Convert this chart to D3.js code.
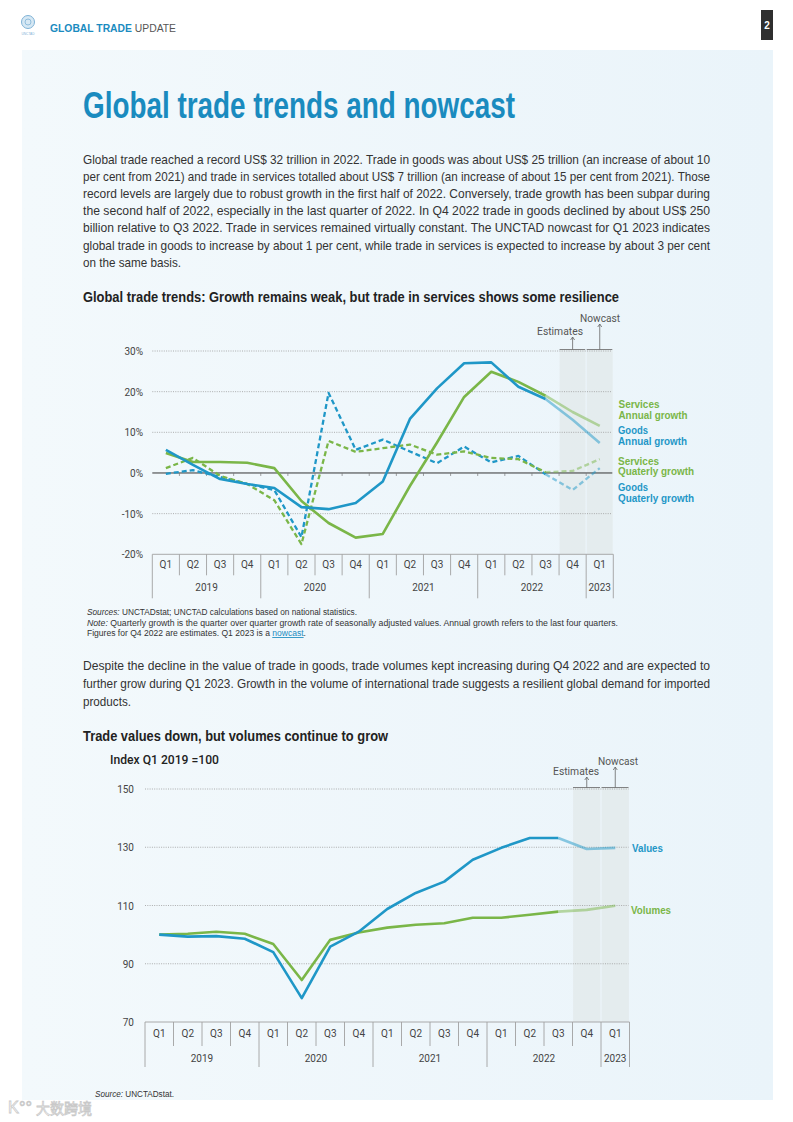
<!DOCTYPE html>
<html><head><meta charset="utf-8">
<script src="https://cdn.jsdelivr.net/npm/d3@7"></script>
<style>
html,body{margin:0;padding:0;background:#fff;}
svg{display:block;}
</style></head><body>
<svg id="page" width="793" height="1122"></svg>
<script>
// ---------- DATA ----------
const quarters = ["Q1","Q2","Q3","Q4","Q1","Q2","Q3","Q4","Q1","Q2","Q3","Q4","Q1","Q2","Q3","Q4","Q1"];
const yearLabels = ["2019","2020","2021","2022","2023"];
const yearSpans = [4,4,4,4,1];

// Chart 1: growth rates (%)
const goodsAnnual       = [5.7, 2.0, -1.5, -2.7, -3.7, -8.4, -8.9, -7.4, -2.1, 13.3, 20.8, 27.0, 27.2, 21.2, 18.2, 13.1, 7.4];
const servicesAnnual    = [4.9, 2.7, 2.7, 2.5, 1.2, -6.9, -12.3, -15.9, -15.0, -3.2, 7.5, 18.7, 24.9, 22.4, 19.0, 15.0, 11.6];
const goodsQuarterly    = [-0.2, 0.7, -1.0, -2.7, -4.2, -15.8, 19.7, 5.7, 8.2, 5.3, 2.4, 6.5, 2.6, 4.2, -0.3, -4.2, 1.2];
const servicesQuarterly = [1.2, 3.7, -0.7, -2.7, -6.7, -17.5, 7.9, 5.2, 6.1, 7.0, 4.5, 5.3, 3.7, 3.4, 0.2, 0.5, 3.4];
const growthTicks = [-20, -10, 0, 10, 20, 30];

// Chart 2: index Q1 2019 = 100
const tradeValues  = [100, 99.3, 99.5, 98.6, 94.0, 78.2, 95.9, 101.0, 108.8, 114.3, 118.2, 125.7, 129.8, 133.2, 133.2, 129.4, 129.8];
const tradeVolumes = [100, 100.3, 101.0, 100.3, 96.8, 84.4, 98.2, 100.7, 102.4, 103.4, 103.9, 105.8, 105.8, 106.8, 107.9, 108.5, 109.9];
const indexTicks = [70, 90, 110, 130, 150];

// ---------- STYLE ----------
const BLUE = "#1f97c7", GREEN = "#7ab648", TITLE_BLUE = "#1a8bbf";
const SANS = "'Liberation Sans', Arial, sans-serif";
const ROBOTO = "Roboto, 'Liberation Sans', sans-serif";
const svg = d3.select("#page");

// background panel
const defs = svg.append("defs");
const grad = defs.append("linearGradient").attr("id","bg").attr("x1","0").attr("x2","1").attr("y1","0").attr("y2","0");
grad.append("stop").attr("offset","0").attr("stop-color","#f3f9fc");
grad.append("stop").attr("offset","1").attr("stop-color","#eaf4fa");
svg.append("rect").attr("x",0).attr("y",0).attr("width",793).attr("height",1122).attr("fill","#fff");
svg.append("rect").attr("x",22).attr("y",50).attr("width",751).attr("height",1050).attr("fill","url(#bg)");

function text(x, y, str, o = {}) {
  const t = svg.append("text").attr("x", x).attr("y", y)
    .attr("font-family", o.font || SANS)
    .attr("font-size", o.size || 13)
    .attr("font-weight", o.weight || "normal")
    .attr("fill", o.fill || "#333")
    .attr("text-anchor", o.anchor || "start")
    .text(str);
  if (o.len) t.attr("textLength", o.len).attr("lengthAdjust", "spacingAndGlyphs");
  if (o.italic) t.attr("font-style", "italic");
  return t;
}
function richText(x, y, parts, size, len) {
  const t = svg.append("text").attr("x", x).attr("y", y).attr("font-family", SANS).attr("font-size", size)
    .attr("fill", "#333").attr("textLength", len).attr("lengthAdjust", "spacingAndGlyphs");
  parts.forEach(p => {
    const s = t.append("tspan").text(p.t);
    if (p.italic) s.attr("font-style", "italic");
    if (p.link) s.attr("fill", TITLE_BLUE).attr("text-decoration", "underline");
  });
  return t;
}

// ---------- HEADER ----------
svg.append("circle").attr("cx",28).attr("cy",22).attr("r",6.5).attr("fill","#d6e8f4").attr("stroke","#7fb2d6").attr("stroke-width",1);
svg.append("circle").attr("cx",28).attr("cy",22).attr("r",3).attr("fill","none").attr("stroke","#7fb2d6").attr("stroke-width",0.8);
text(28, 35, "UNCTAD", {size: 4, fill: "#7fb2d6", anchor: "middle", len: 13});
{
  const t = svg.append("text").attr("x",50).attr("y",31.5).attr("font-family",SANS).attr("font-size",10)
    .attr("textLength",126).attr("lengthAdjust","spacingAndGlyphs");
  t.append("tspan").attr("font-weight","bold").attr("fill",TITLE_BLUE).text("GLOBAL TRADE ");
  t.append("tspan").attr("fill","#555").text("UPDATE");
}
svg.append("rect").attr("x",761).attr("y",10).attr("width",12).attr("height",30).attr("fill","#2f2f2f");
text(767, 29, "2", {size: 10, weight: "bold", fill: "#fff", anchor: "middle"});

// ---------- TITLE & PARAGRAPHS ----------
text(83, 118.3, "Global trade trends and nowcast", {size: 36, weight: "bold", fill: TITLE_BLUE, len: 432});

const para1 = [
  "Global trade reached a record US$ 32 trillion in 2022. Trade in goods was about US$ 25 trillion (an increase of about 10",
  "per cent from 2021) and trade in services totalled about US$ 7 trillion (an increase of about 15 per cent from 2021). Those",
  "record levels are largely due to robust growth in the first half of 2022. Conversely, trade growth has been subpar during",
  "the second half of 2022, especially in the last quarter of 2022. In Q4 2022 trade in goods declined by about US$ 250",
  "billion relative to Q3 2022. Trade in services remained virtually constant. The UNCTAD nowcast for Q1 2023 indicates",
  "global trade in goods to increase by about 1 per cent, while trade in services is expected to increase by about 3 per cent",
  "on the same basis."
];
para1.forEach((l, i) => text(83, 164 + i * 17.1, l, {size: 13, fill: "#333", len: i === para1.length - 1 ? 98 : 627}));

text(83, 301.7, "Global trade trends: Growth remains weak, but trade in services shows some resilience", {size: 14.5, weight: "bold", fill: "#222", len: 536});

// footnotes
richText(87, 615, [{t: "Sources:", italic: true}, {t: " UNCTADstat; UNCTAD calculations based on national statistics."}], 8.5, 270);
richText(87, 625.5, [{t: "Note:", italic: true}, {t: " Quarterly growth is the quarter over quarter growth rate of seasonally adjusted values. Annual growth refers to the last four quarters."}], 8.5, 531);
richText(87, 636, [{t: "Figures for Q4 2022 are estimates. Q1 2023 is a "}, {t: "nowcast", link: true}, {t: "."}], 8.5, 219);

const para2 = [
  "Despite the decline in the value of trade in goods, trade volumes kept increasing during Q4 2022 and are expected to",
  "further grow during Q1 2023. Growth in the volume of international trade suggests a resilient global demand for imported",
  "products."
];
para2.forEach((l, i) => text(83, 670 + i * 17.8, l, {size: 13, fill: "#333", len: i === para2.length - 1 ? 48 : 627}));

text(83, 740.5, "Trade values down, but volumes continue to grow", {size: 14.5, weight: "bold", fill: "#222", len: 305});
text(110, 763.5, "Index Q1 2019 =100", {font: ROBOTO, size: 12, weight: 500, fill: "#222", len: 109});

richText(95, 1096.5, [{t: "Source:", italic: true}, {t: " UNCTADstat."}], 8.5, 79);

// watermark
text(8, 1113, "K°°", {font: SANS, size: 17, fill: "#fff", len: 24}).attr("stroke","#c9c9c9").attr("stroke-width",0.8);
text(36, 1114, "大数跨境", {font: "'Noto Sans CJK SC', sans-serif", size: 15, fill: "#fff", len: 56}).attr("stroke","#c9c9c9").attr("stroke-width",0.8);

// ---------- CHART FUNCTION ----------
function drawChart(cfg) {
  const x = d3.scaleBand().domain(d3.range(quarters.length)).range([cfg.x0, cfg.x1]);
  const y = d3.scaleLinear().domain(cfg.domain).range([cfg.yBottom, cfg.yTop]);
  const bw = x.bandwidth();
  const g = svg.append("g");
  const top = y(cfg.domain[1]);

  // shading for estimates / nowcast
  [15, 16].forEach(i => {
    g.append("rect").attr("x", x(i) + 0.6).attr("width", bw - 1.2)
      .attr("y", top - 1.5).attr("height", cfg.yBottom - top + 1.5)
      .attr("fill", "rgba(200,200,192,0.2)");
  });

  // gridlines
  cfg.ticks.forEach(v => {
    if (v === cfg.domain[0]) return;
    const ln = g.append("line").attr("x1", cfg.x0).attr("x2", cfg.x1 - 1).attr("y1", y(v)).attr("y2", y(v));
    if (v === 0) ln.attr("stroke", "#333").attr("stroke-width", 1);
    else ln.attr("stroke", "#9a9a9a").attr("stroke-width", 0.8).attr("stroke-dasharray", "1,1.3");
  });
  if (cfg.zeroTicks) {
    d3.range(1, quarters.length).forEach(k => {
      g.append("line").attr("x1", x(k)).attr("x2", x(k)).attr("y1", y(0)).attr("y2", y(0) + 3)
        .attr("stroke", "#777").attr("stroke-width", 0.7);
    });
  }

  // y axis labels
  const ya = g.append("g").attr("transform", `translate(${cfg.labelRight},0)`)
    .call(d3.axisLeft(y).tickValues(cfg.ticks).tickSize(0).tickPadding(0).tickFormat(cfg.fmt));
  ya.select(".domain").remove();
  ya.selectAll("text").attr("font-family", ROBOTO).attr("font-size", 10).attr("fill", "#444").attr("dy", "0.35em");

  // x axis box
  g.append("line").attr("x1", cfg.x0).attr("x2", cfg.x1).attr("y1", cfg.yBottom).attr("y2", cfg.yBottom)
    .attr("stroke", "#a0a0a0").attr("stroke-width", 0.9);
  const yearBounds = [0];
  yearSpans.forEach(s => yearBounds.push(yearBounds[yearBounds.length - 1] + s));
  d3.range(0, quarters.length + 1).forEach(k => {
    const xx = k < quarters.length ? x(k) : cfg.x1;
    const isYear = yearBounds.includes(k);
    g.append("line").attr("x1", xx).attr("x2", xx).attr("y1", cfg.yBottom)
      .attr("y2", cfg.yBottom + (isYear ? cfg.yearRowBottom : cfg.qRowBottom))
      .attr("stroke", "#a0a0a0").attr("stroke-width", 0.9);
  });
  const xa = g.append("g").attr("transform", `translate(0,${cfg.yBottom})`)
    .call(d3.axisBottom(x).tickSize(0).tickPadding(cfg.qPad).tickFormat(i => quarters[i]));
  xa.select(".domain").remove();
  xa.selectAll("text").attr("font-family", ROBOTO).attr("font-size", 10).attr("fill", "#444");
  yearLabels.forEach((lab, j) => {
    const a = yearBounds[j], b = yearBounds[j + 1];
    const xs = x(a), xe = b < quarters.length ? x(b) : cfg.x1;
    g.append("text").attr("x", (xs + xe) / 2).attr("y", cfg.yBottom + cfg.yearBase)
      .attr("text-anchor", "middle").attr("font-family", ROBOTO).attr("font-size", 10).attr("fill", "#444").text(lab);
  });

  // series lines
  const lineGen = d3.line().x(d => x(d.i) + bw / 2).y(d => y(d.v)).curve(d3.curveLinear);
  cfg.series.forEach(s => {
    const pts = s.values.map((v, i) => ({i, v}));
    const solidPart = pts.slice(0, 15), fadePart = pts.slice(14);
    [[solidPart, 1], [fadePart, 0.5]].forEach(([p, op]) => {
      const path = g.append("path").datum(p).attr("d", lineGen).attr("fill", "none")
        .attr("stroke", s.color).attr("stroke-width", s.width).attr("stroke-opacity", op)
        .attr("stroke-linejoin", "round");
      if (s.dash) path.attr("stroke-dasharray", s.dash);
    });
  });

  // brackets + annotations
  const by = top - 1.5;
  [[15, "Estimates", cfg.estY, cfg.estX], [16, "Nowcast", cfg.nowY, cfg.nowX]].forEach(([i, lab, ty, tx]) => {
    g.append("line").attr("x1", x(i) + 0.5).attr("x2", x(i) + bw - 1).attr("y1", by).attr("y2", by)
      .attr("stroke", "#666").attr("stroke-width", 0.8);
    const cx = x(i) + bw / 2;
    g.append("line").attr("x1", cx).attr("x2", cx).attr("y1", by).attr("y2", ty + 2)
      .attr("stroke", "#666").attr("stroke-width", 0.8);
    g.append("path").attr("d", `M${cx - 2},${ty + 5} L${cx},${ty + 2} L${cx + 2},${ty + 5}`)
      .attr("fill", "none").attr("stroke", "#666").attr("stroke-width", 0.8);
    g.append("text").attr("x", tx).attr("y", ty).attr("text-anchor", "middle")
      .attr("font-family", ROBOTO).attr("font-size", 10.5).attr("fill", "#555")
      .attr("textLength", lab === "Estimates" ? 46 : 40).attr("lengthAdjust", "spacingAndGlyphs").text(lab);
  });

  // right-side labels
  cfg.labels.forEach(l => {
    g.append("text").attr("x", l.x).attr("y", l.y).attr("font-family", SANS).attr("font-size", 10.5)
      .attr("font-weight", "bold").attr("fill", l.color)
      .attr("textLength", l.len).attr("lengthAdjust", "spacingAndGlyphs").text(l.t);
  });
}

drawChart({
  x0: 152.3, x1: 613.3, yTop: 351, yBottom: 554.3, domain: [-20, 30], ticks: growthTicks,
  fmt: d => d + "%", labelRight: 143, zeroTicks: true,
  qRowBottom: 21, yearRowBottom: 44, qPad: 7, yearBase: 37,
  estX: 560, estY: 335, nowX: 600, nowY: 322,
  series: [
    {values: goodsQuarterly, color: BLUE, width: 2.3, dash: "5,3"},
    {values: servicesQuarterly, color: GREEN, width: 2.3, dash: "5,3"},
    {values: servicesAnnual, color: GREEN, width: 2.6},
    {values: goodsAnnual, color: BLUE, width: 2.6}
  ],
  labels: [
    {t: "Services", x: 618.5, y: 407.7, color: GREEN, len: 41},
    {t: "Annual growth", x: 618.5, y: 418.5, color: GREEN, len: 69},
    {t: "Goods", x: 618, y: 433.7, color: BLUE, len: 30},
    {t: "Annual growth", x: 618, y: 444.5, color: BLUE, len: 69},
    {t: "Services", x: 618, y: 464.7, color: GREEN, len: 41},
    {t: "Quaterly growth", x: 618, y: 474.5, color: GREEN, len: 76},
    {t: "Goods", x: 618, y: 491, color: BLUE, len: 30},
    {t: "Quaterly growth", x: 618, y: 501.5, color: BLUE, len: 76}
  ]
});

drawChart({
  x0: 145, x1: 629.5, yTop: 789, yBottom: 1022, domain: [70, 150], ticks: indexTicks,
  fmt: d => d, labelRight: 134, zeroTicks: false,
  qRowBottom: 24, yearRowBottom: 45, qPad: 8, yearBase: 40,
  estX: 576, estY: 775, nowX: 618, nowY: 765,
  series: [
    {values: tradeVolumes, color: GREEN, width: 2.6},
    {values: tradeValues, color: BLUE, width: 2.6}
  ],
  labels: [
    {t: "Values", x: 632, y: 851.7, color: BLUE, len: 31},
    {t: "Volumes", x: 631, y: 913.7, color: GREEN, len: 40}
  ]
});
</script>
</body></html>
